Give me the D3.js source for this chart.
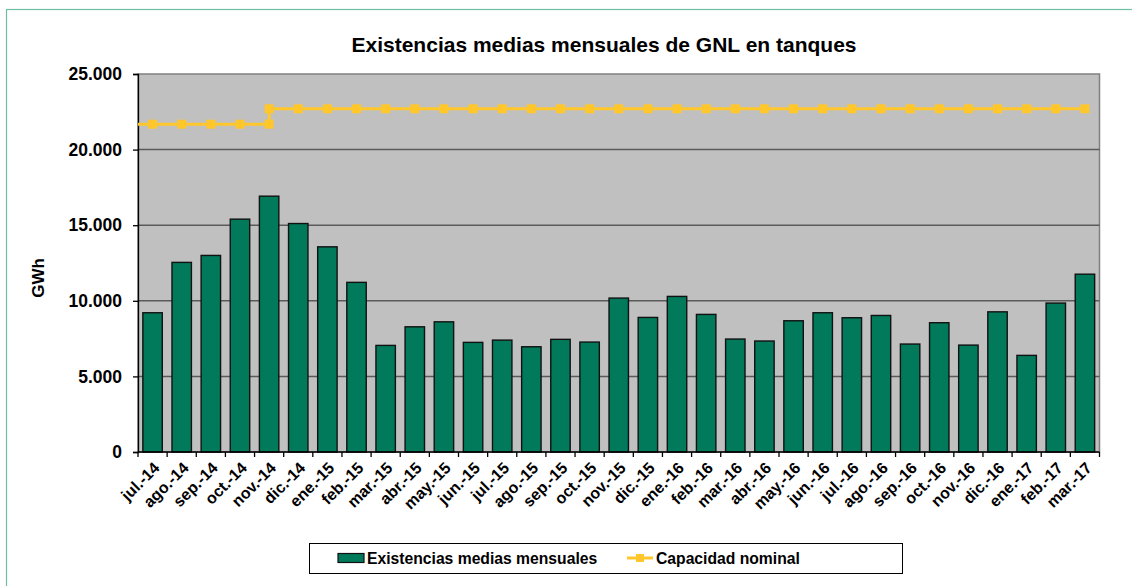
<!DOCTYPE html>
<html><head><meta charset="utf-8">
<script src="https://cdn.jsdelivr.net/npm/d3@7"></script>
<style>
html,body{margin:0;padding:0;background:#fff;}
svg{display:block;font-family:"Liberation Sans",Arial,sans-serif;}
</style></head>
<body>
<svg id="chart" width="1132" height="586"></svg>
<script>
const categories = ["jul.-14","ago.-14","sep.-14","oct.-14","nov.-14","dic.-14","ene.-15","feb.-15","mar.-15","abr.-15","may.-15","jun.-15","jul.-15","ago.-15","sep.-15","oct.-15","nov.-15","dic.-15","ene.-16","feb.-16","mar.-16","abr.-16","may.-16","jun.-16","jul.-16","ago.-16","sep.-16","oct.-16","nov.-16","dic.-16","ene.-17","feb.-17","mar.-17"];
const existencias = [9210,12540,13000,15400,16920,15110,13570,11220,7050,8280,8610,7250,7400,6960,7450,7270,10180,8900,10290,9100,7470,7340,8680,9210,8880,9030,7140,8550,7070,9270,6390,9850,11760];
// Capacidad nominal: step at nov.-14
const capacidadCats = ["jul.-14","ago.-14","sep.-14","oct.-14","nov.-14","nov.-14","dic.-14","ene.-15","feb.-15","mar.-15","abr.-15","may.-15","jun.-15","jul.-15","ago.-15","sep.-15","oct.-15","nov.-15","dic.-15","ene.-16","feb.-16","mar.-16","abr.-16","may.-16","jun.-16","jul.-16","ago.-16","sep.-16","oct.-16","nov.-16","dic.-16","ene.-17","feb.-17","mar.-17"];
const capacidad = [21680,21680,21680,21680,21680,22700,22700,22700,22700,22700,22700,22700,22700,22700,22700,22700,22700,22700,22700,22700,22700,22700,22700,22700,22700,22700,22700,22700,22700,22700,22700,22700,22700,22700];
const yTicks = [0,5000,10000,15000,20000,25000];
const yTickLabels = ["0","5.000","10.000","15.000","20.000","25.000"];
const title = "Existencias medias mensuales de GNL en tanques";
const yTitle = "GWh";
const legendLabels = ["Existencias medias mensuales","Capacidad nominal"];

const svg = d3.select("#chart");
const barColor = "#007a5a", lineColor = "#ffc72c";
const plot = {l:138, r:1099.5, t:74, b:452};

// outer border
svg.append("rect").attr("x",6.5).attr("y",9.5).attr("width",1140).attr("height",600)
  .attr("fill","none").attr("stroke","#6fbfa6").attr("stroke-width",1.2);

const x = d3.scaleBand().domain(categories).range([plot.l, plot.r]).paddingInner(0.333).paddingOuter(0.1665);
const xb = d3.scaleBand().domain(categories).range([plot.l, plot.r]);
const y = d3.scaleLinear().domain([0,25000]).range([plot.b, plot.t]);

// plot background
svg.append("rect").attr("x",plot.l).attr("y",plot.t).attr("width",plot.r-plot.l).attr("height",plot.b-plot.t)
  .attr("fill","#c0c0c0").attr("stroke","#808080").attr("stroke-width",1.5);

// gridlines
svg.append("g").selectAll("line").data(yTicks.filter(d=>d>0 && d<25000)).join("line")
  .attr("x1",plot.l).attr("x2",plot.r).attr("y1",d=>y(d)).attr("y2",d=>y(d))
  .attr("stroke","#5a5a5a").attr("stroke-width",1.5);

// bars
svg.append("g").selectAll("rect").data(existencias).join("rect")
  .attr("x",(d,i)=>x(categories[i])).attr("width",x.bandwidth())
  .attr("y",d=>y(d)).attr("height",d=>y(0)-y(d))
  .attr("fill",barColor).attr("stroke","#111").attr("stroke-width",1.4);

// y axis
const yAxis = d3.axisLeft(y).tickValues(yTicks).tickFormat((d,i)=>yTickLabels[i]).tickSizeOuter(0).tickSize(5).tickPadding(11);
const gy = svg.append("g").attr("transform",`translate(${plot.l},0)`).call(yAxis);
gy.select(".domain").attr("stroke","#000").attr("stroke-width",1.3);
gy.selectAll(".tick line").attr("stroke","#000").attr("stroke-width",1.3);
gy.selectAll("text").attr("font-size","17.5px").attr("font-weight","bold").attr("fill","#000").attr("font-family","Liberation Sans, Arial, sans-serif");

// x axis with ticks at category boundaries
const gx = svg.append("g");
gx.append("line").attr("x1",plot.l).attr("x2",plot.r).attr("y1",y(0)).attr("y2",y(0)).attr("stroke","#000").attr("stroke-width",1.3);
const bounds = categories.map(c=>xb(c)).concat([xb.range()[1]]);
gx.selectAll("line.tk").data(bounds).join("line").attr("class","tk")
  .attr("x1",d=>d).attr("x2",d=>d).attr("y1",y(0)).attr("y2",y(0)+5).attr("stroke","#000").attr("stroke-width",1.3);
gx.selectAll("text").data(categories).join("text")
  .attr("transform",d=>`translate(${xb(d)+xb.bandwidth()/2+4},${y(0)+13}) rotate(-45)`)
  .attr("text-anchor","end").attr("dy","0.35em")
  .attr("font-size","16px").attr("font-weight","bold").text(d=>d);

// capacity line
const pts = capacidad.map((v,i)=>[xb(capacidadCats[i])+xb.bandwidth()/2, y(v)]);
const linePts = [[plot.l, y(capacidad[0])]].concat(pts);
svg.append("path").attr("d",d3.line()(linePts)).attr("fill","none").attr("stroke",lineColor).attr("stroke-width",3);
svg.append("g").selectAll("rect").data(pts).join("rect")
  .attr("x",d=>d[0]-4.5).attr("y",d=>d[1]-4.5).attr("width",9).attr("height",9).attr("fill",lineColor);

// title
svg.append("text").attr("x",604).attr("y",52).attr("text-anchor","middle")
  .attr("font-size","21px").attr("font-weight","bold").text(title);
// y title
svg.append("text").attr("transform","translate(44,278) rotate(-90)").attr("text-anchor","middle")
  .attr("font-size","17px").attr("font-weight","bold").text(yTitle);

// legend
const lg = svg.append("g");
lg.append("rect").attr("x",309.5).attr("y",543.5).attr("width",593).attr("height",30).attr("fill","#fff").attr("stroke","#000").attr("stroke-width",1);
lg.append("rect").attr("x",338).attr("y",553.5).attr("width",26).attr("height",9).attr("fill",barColor).attr("stroke","#111").attr("stroke-width",1.2);
lg.append("text").attr("x",367).attr("y",564).attr("font-size","15.7px").attr("font-weight","bold").text(legendLabels[0]);
lg.append("line").attr("x1",627).attr("x2",653).attr("y1",558).attr("y2",558).attr("stroke",lineColor).attr("stroke-width",3);
lg.append("rect").attr("x",636).attr("y",554).attr("width",8).attr("height",8).attr("fill",lineColor);
lg.append("text").attr("x",656).attr("y",564).attr("font-size","15.7px").attr("font-weight","bold").text(legendLabels[1]);
</script>
</body></html>
